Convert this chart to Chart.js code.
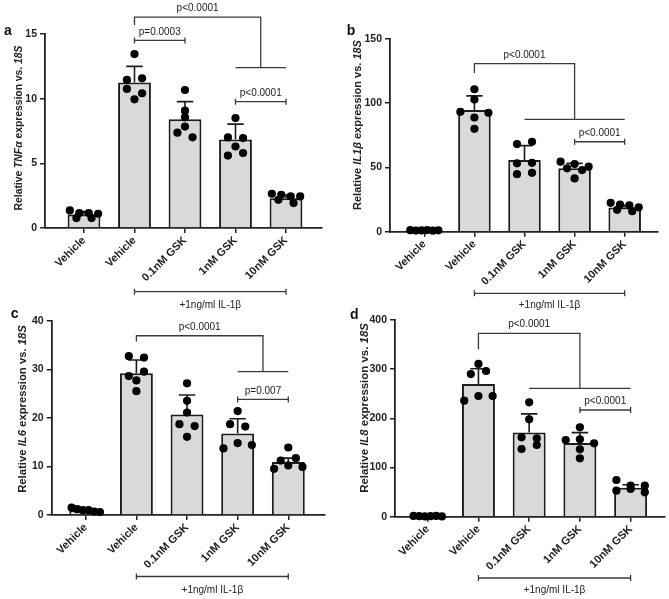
<!DOCTYPE html>
<html>
<head>
<meta charset="utf-8">
<script src="https://cdn.jsdelivr.net/npm/chart.js@4.4.0/dist/chart.umd.min.js"></script>
<style>
  html, body { margin: 0; padding: 0; background: #fff; overflow: hidden; }
  .panel { position: absolute; }
</style>
</head>
<body>
<div class="panel" style="left:0;top:0;width:335px;height:311px"><canvas id="chartA"></canvas></div>
<div class="panel" style="left:335px;top:0;width:334px;height:311px"><canvas id="chartB"></canvas></div>
<div class="panel" style="left:0;top:300px;width:335px;height:299px"><canvas id="chartC"></canvas></div>
<div class="panel" style="left:335px;top:300px;width:334px;height:299px"><canvas id="chartD"></canvas></div>
<script>
const categories = ['Vehicle', 'Vehicle', '0.1nM GSK', '1nM GSK', '10nM GSK'];
const treatmentLabel = '+1ng/ml IL-1\u03b2';

// a - TNFa
const tnfMean = [1.05, 11.25, 8.4, 6.85, 2.3];
const tnfSD = [0.22, 1.25, 1.37, 1.18, 0.25];
const tnfPoints = [
  [1.36, 1.16, 1.16, 1.1, 0.77, 0.77],
  [13.45, 11.45, 11.57, 10.75, 10.42, 9.95],
  [10.67, 9.07, 8.56, 7.84, 7.37, 7.01],
  [8.5, 7.0, 6.95, 6.3, 5.6, 5.8],
  [2.65, 2.57, 2.44, 2.44, 2.18, 1.93]
];
const tnfPLabels = ['p<0.0001', 'p=0.0003', 'p<0.0001'];

// b - IL1b
const il1bMean = [1.0, 94.7, 55.8, 49.3, 18.8];
const il1bSD = [0.5, 11.0, 11.2, 3.9, 1.8];
const il1bPoints = [
  [1.2, 0.9, 1.0, 1.3, 0.8, 1.1],
  [110.9, 102.9, 93.3, 88.9, 92.5, 80.1],
  [68.2, 70.0, 53.2, 53.6, 44.8, 45.8],
  [54.5, 52.7, 49.3, 50.6, 48.0, 41.5],
  [22.5, 21.0, 20.5, 19.0, 17.0, 16.0]
];
const il1bPLabels = ['p<0.0001', 'p<0.0001'];

// c - IL6
const il6Mean = [0.95, 29.2, 20.7, 16.8, 10.9];
const il6SD = [0.3, 2.7, 4.0, 3.0, 0.8];
const il6Points = [
  [1.5, 1.2, 1.0, 1.0, 0.7, 0.6],
  [32.7, 32.4, 28.6, 29.5, 27.7, 25.5],
  [27.1, 23.5, 21.1, 18.7, 18.3, 16.1],
  [21.4, 18.7, 18.2, 13.7, 14.8, 14.4],
  [13.9, 11.2, 11.7, 9.5, 10.2, 9.9]
];
const il6PLabels = ['p<0.0001', 'p=0.007'];

// d - IL8
const il8Mean = [1, 270, 171, 150, 59];
const il8SD = [1, 31, 38, 21, 6];
const il8Points = [
  [1.5, 1, 0.5, 1, 1.5, 0.5],
  [310.6, 290, 296.3, 236, 245.5, 245.5],
  [232.6, 198, 161.5, 159.4, 137.7, 145.8],
  [181.8, 156, 157.4, 149.3, 137, 118.8],
  [74.6, 63, 63, 52.9, 56.3, 49.6]
];
const il8PLabels = ['p<0.0001', 'p<0.0001'];

const FONT = "'Liberation Sans', Arial, sans-serif";
const INK = '#222';

// graphpad-ish scatter: points close in value share a row, spread sideways
function swarm(values, center, pxPerUnit) {
  const order = values.map((v, i) => i).sort((a, b) => values[b] - values[a]);
  const rows = [];
  order.forEach(i => {
    const row = rows[rows.length - 1];
    if (row && (values[row[0]] - values[i]) * pxPerUnit < 6) row.push(i);
    else rows.push([i]);
  });
  const pts = [];
  rows.forEach(row => {
    row.sort((a, b) => a - b);
    const n = row.length;
    const step = n > 1 ? Math.min(0.3, 0.56 / (n - 1)) : 0;
    row.forEach((i, k) => pts.push({ x: center + (k - (n - 1) / 2) * step, y: values[i] }));
  });
  return pts;
}

function drawYTitle(ctx, segs, cx, cy, len) {
  const fontFor = (s, it) => (it ? 'italic ' : '') + 'bold ' + s + 'px ' + FONT;
  const measure = s => segs.reduce((w, g) => {
    ctx.font = fontFor(s, g.it);
    return w + ctx.measureText(g.t).width;
  }, 0);
  const size = 10 * len / measure(10);
  const total = measure(size);
  ctx.save();
  ctx.translate(cx, cy);
  ctx.rotate(-Math.PI / 2);
  ctx.textBaseline = 'middle';
  ctx.textAlign = 'left';
  ctx.fillStyle = INK;
  let xx = -total / 2;
  segs.forEach(g => {
    ctx.font = fontFor(size, g.it);
    ctx.fillText(g.t, xx, 0);
    xx += ctx.measureText(g.t).width;
  });
  ctx.restore();
}

function tickBracket(ctx, x1, x2, y, label) {
  ctx.beginPath();
  ctx.moveTo(x1, y); ctx.lineTo(x2, y);
  ctx.moveTo(x1, y - 3); ctx.lineTo(x1, y + 3);
  ctx.moveTo(x2, y - 3); ctx.lineTo(x2, y + 3);
  ctx.stroke();
  if (label) ctx.fillText(label, (x1 + x2) / 2, y - 8.5);
}

function makePlugin(cfg) {
  return {
    id: 'figure' + cfg.letter,
    afterDatasetDraw(chart, args) {
      if (args.index !== 0) return;
      const ctx = chart.ctx, y = chart.scales.y;
      ctx.save();
      ctx.strokeStyle = '#1c1c1c';
      ctx.lineWidth = 1.6;
      chart.getDatasetMeta(0).data.forEach((bar, i) => {
        const top = y.getPixelForValue(cfg.mean[i] + cfg.sd[i]);
        const half = bar.width / 4;
        ctx.beginPath();
        ctx.moveTo(bar.x, bar.y); ctx.lineTo(bar.x, top);
        ctx.moveTo(bar.x - half, top); ctx.lineTo(bar.x + half, top);
        ctx.stroke();
      });
      ctx.restore();
    },
    afterDraw(chart) {
      const ctx = chart.ctx, x = chart.scales.x, y = chart.scales.y;
      ctx.save();
      ctx.strokeStyle = '#3a3a3a';
      ctx.lineWidth = 1.3;
      ctx.fillStyle = INK;
      ctx.font = '10px ' + FONT;
      ctx.textAlign = 'center';
      ctx.textBaseline = 'middle';

      // big comparison bracket
      const b = cfg.big;
      const xL = x.getPixelForValue(b.from), xR = x.getPixelForValue(b.leg);
      const yU = y.getPixelForValue(b.top), yLow = y.getPixelForValue(b.low);
      ctx.beginPath();
      ctx.moveTo(xL, y.getPixelForValue(b.legEnd));
      ctx.lineTo(xL, yU); ctx.lineTo(xR, yU); ctx.lineTo(xR, yLow);
      ctx.moveTo(x.getPixelForValue(b.lowFrom), yLow);
      ctx.lineTo(x.getPixelForValue(b.lowTo), yLow);
      ctx.stroke();
      ctx.fillText(cfg.pLabels[0], (xL + xR) / 2, yU - 8.7);

      cfg.small.forEach((s, i) => {
        tickBracket(ctx, x.getPixelForValue(s.from), x.getPixelForValue(s.to),
          y.getPixelForValue(s.y), cfg.pLabels[i + 1]);
      });

      // treatment bracket under the labels
      const x1 = x.getPixelForValue(1), x4 = x.getPixelForValue(4);
      tickBracket(ctx, x1, x4, cfg.treatLine, null);
      ctx.fillText(treatmentLabel, (x1 + x4) / 2, cfg.treatText);

      drawYTitle(ctx, cfg.title, cfg.titleX, cfg.titleY, cfg.titleLen);

      ctx.font = 'bold 14px ' + FONT;
      ctx.textAlign = 'left';
      ctx.textBaseline = 'alphabetic';
      ctx.fillStyle = '#111';
      ctx.fillText(cfg.letter, cfg.letterX, cfg.letterY);
      ctx.restore();
    }
  };
}

function makePanel(cfg) {
  const box = cfg.box;
  const pxPerUnit = (box.bottom - box.top) / cfg.yMax;
  const points = [];
  cfg.points.forEach((vals, i) => points.push(...swarm(vals, i, pxPerUnit)));

  new Chart(document.getElementById(cfg.id), {
    type: 'bar',
    data: {
      datasets: [
        {
          type: 'bar',
          data: cfg.mean.map((m, i) => ({ x: i, y: m })),
          backgroundColor: '#d9d9d9',
          borderColor: '#1c1c1c',
          borderWidth: 2,
          barPercentage: 0.65,
          categoryPercentage: 1,
          order: 2
        },
        {
          type: 'scatter',
          data: points,
          pointRadius: 4.1,
          pointBackgroundColor: '#000',
          pointBorderWidth: 0,
          clip: false,
          order: 1
        }
      ]
    },
    plugins: [makePlugin(cfg)],
    options: {
      responsive: true,
      maintainAspectRatio: false,
      animation: false,
      layout: { padding: { left: 0, top: box.top, right: box.w - box.right, bottom: 0 } },
      plugins: { legend: { display: false }, tooltip: { enabled: false } },
      scales: {
        x: {
          type: 'linear',
          min: cfg.xMin,
          max: cfg.xMax,
          offset: false,
          afterBuildTicks: s => { s.ticks = categories.map((c, i) => ({ value: i })); },
          afterFit: s => { s.height = box.h - box.bottom; },
          grid: { drawOnChartArea: false, drawTicks: true, tickLength: 5, color: INK, lineWidth: 1.5, offset: false },
          border: { display: true, color: INK, width: 1.8 },
          ticks: {
            autoSkip: false, minRotation: 45, maxRotation: 45, padding: 1, color: INK,
            font: { family: FONT, weight: 'bold', size: 11 },
            callback: v => categories[v]
          }
        },
        y: {
          min: 0,
          max: cfg.yMax,
          afterFit: s => { s.width = box.left; },
          grid: { drawOnChartArea: false, drawTicks: true, tickLength: 5, color: INK, lineWidth: 1.5 },
          border: { display: true, color: INK, width: 1.8 },
          ticks: {
            stepSize: cfg.step, padding: 3, color: INK,
            font: { family: FONT, weight: 'bold', size: 10.5 }
          }
        }
      }
    }
  });
}

const titleSegs = gene => [
  { t: 'Relative ', it: false }, { t: gene, it: true },
  { t: ' expression vs. ', it: false }, { t: '18S', it: true }
];

makePanel({
  id: 'chartA', letter: 'a', mean: tnfMean, sd: tnfSD, points: tnfPoints, pLabels: tnfPLabels,
  title: titleSegs('TNF\u03b1'), yMax: 15, step: 5,
  box: { w: 335, h: 311, left: 45, right: 322, top: 34, bottom: 228 }, xMin: -0.772, xMax: 4.713,
  big: { from: 1, leg: 3.5, top: 16.3, legEnd: 15.7, low: 12.4, lowFrom: 3, lowTo: 4 },
  small: [{ from: 1, to: 2, y: 14.5 }, { from: 3, to: 4, y: 9.77 }],
  treatLine: 291.7, treatText: 305,
  titleX: 19.5, titleY: 128, titleLen: 165, letterX: 4, letterY: 35
});

makePanel({
  id: 'chartB', letter: 'b', mean: il1bMean, sd: il1bSD, points: il1bPoints, pLabels: il1bPLabels,
  title: titleSegs('IL1\u03b2'), yMax: 150, step: 50,
  box: { w: 334, h: 311, left: 55, right: 323, top: 39, bottom: 231.7 }, xMin: -0.685, xMax: 4.665,
  big: { from: 1, leg: 3, top: 130.9, legEnd: 123.6, low: 87.4, lowFrom: 2, lowTo: 4 },
  small: [{ from: 3, to: 4, y: 70 }],
  treatLine: 293.3, treatText: 305,
  titleX: 23.3, titleY: 125, titleLen: 170, letterX: 11.7, letterY: 35
});

makePanel({
  id: 'chartC', letter: 'c', mean: il6Mean, sd: il6SD, points: il6Points, pLabels: il6PLabels,
  title: titleSegs('IL6'), yMax: 40, step: 10,
  box: { w: 335, h: 299, left: 51.7, right: 325, top: 20.7, bottom: 215 }, xMin: -0.673, xMax: 4.725,
  big: { from: 1, leg: 3.5, top: 36.9, legEnd: 35.7, low: 29.5, lowFrom: 3, lowTo: 4 },
  small: [{ from: 3, to: 4, y: 23.8 }],
  treatLine: 276.5, treatText: 290.5,
  titleX: 22.7, titleY: 109, titleLen: 168, letterX: 10.7, letterY: 18.3
});

makePanel({
  id: 'chartD', letter: 'd', mean: il8Mean, sd: il8SD, points: il8Points, pLabels: il8PLabels,
  title: titleSegs('IL8'), yMax: 400, step: 100,
  box: { w: 334, h: 299, left: 60, right: 333, top: 20, bottom: 216.7 }, xMin: -0.645, xMax: 4.676,
  big: { from: 1, leg: 3, top: 373, legEnd: 340, low: 261, lowFrom: 2, lowTo: 4 },
  small: [{ from: 3, to: 4, y: 217 }],
  treatLine: 278, treatText: 290.5,
  titleX: 29.5, titleY: 108, titleLen: 170, letterX: 15, letterY: 19
});
</script>
</body>
</html>
